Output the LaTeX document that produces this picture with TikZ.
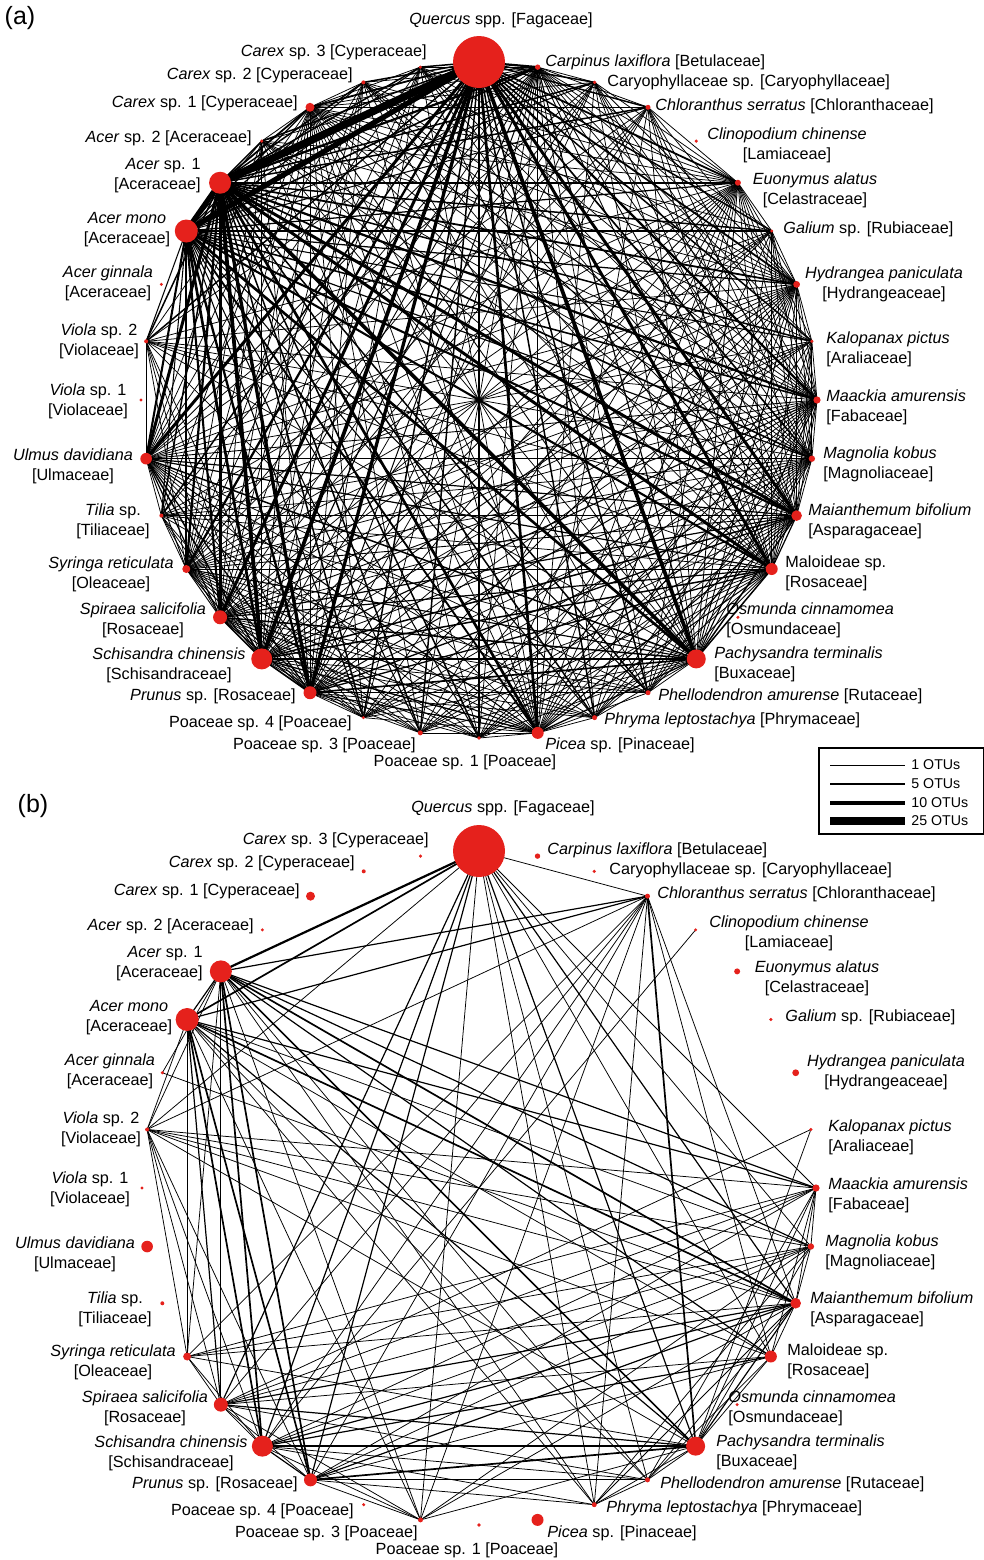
\documentclass[tikz,border=0pt]{standalone}
\usepackage{fontspec}
\setmainfont{Liberation Sans}
\definecolor{dotred}{RGB}{229,33,28}
\pgfdeclarelayer{bg}
\pgfsetlayers{bg,main}
\tikzset{
  dot/.style={circle,fill=dotred,inner sep=0pt,outer sep=0pt,draw=none},
  lbl/.style={inner sep=0pt,font=\fontsize{8.1}{10}\selectfont},
  et/.style={line width=0.38pt},
  em/.style={line width=0.6pt},
  eh/.style={line width=0.85pt},
  eH/.style={line width=1.1pt},
  eX/.style={line width=1.3pt},
}
\newcommand\lab[5]{%
  \node[lbl,#1] (la#2) at (#3,#4) {#5};
  \node[lbl,#1] (lb#2) at ({#3+2},{#4+788}) {#5};}
\begin{document}
\begin{tikzpicture}[x=0.5pt,y=-0.5pt]
\useasboundingbox (0,0) rectangle (984,1560);
\def\rarr{{26,2.7,1.8,2.5,1.7,3,1.7,3.4,1.7,3.6,3.2,5.3,6,1.7,9.5,2.5,2.5,6,1.8,2.5,1.7,6.5,10.5,7,4,2,5.8,1.7,2,1.7,11.5,11,1.7,4.5,2,1.7}}
\def\garr{{5,1.5,1,1,0,1.2,1,1.2,1,1.5,1.1,2,2,0,2.5,1,1,1.8,1,1,1,2.2,2.5,2,1.5,1,2,0,1,0,3.5,5,1,1.2,1,1}}
% nodes
\foreach \k in {0,...,35}{
  \pgfmathsetmacro\px{479+338*cos(90-10*\k)}
  \pgfmathsetmacro\py{400-338*sin(90-10*\k)}
  \pgfmathsetmacro\qx{479+337*cos(90-10*\k)}
  \pgfmathsetmacro\qy{1188-337*sin(90-10*\k)}
  \pgfmathsetmacro\rr{\rarr[\k]}
  \node[dot,minimum size=\rr pt] (a\k) at (\px,\py) {};
  \node[dot,minimum size=\rr pt] (b\k) at (\qx,\qy) {};
}
% edges panel (a)
\begin{pgfonlayer}{bg}
\foreach \i in {0,...,34}{
  \pgfmathtruncatemacro\js{\i+1}
  \foreach \j in {\js,...,35}{
    \pgfmathsetmacro\gi{\garr[\i]}
    \pgfmathsetmacro\gj{\garr[\j]}
    \pgfmathtruncatemacro\ok{(\gi>0)*(\gj>0)*(((\gi>1)+(\gj>1))>0)}
    \ifnum\ok=1
      \pgfmathsetmacro\w{max(0.38,0.15*\gi*\gj)}
      \draw[line width=\w pt] (a\i.center) -- (a\j.center);
    \fi
  }
}
% edges panel (b)
\foreach \u/\v/\s in {0/31/eH, 0/30/eh, 0/3/et, 0/28/et, 0/23/em, 0/22/em, 0/21/em, 0/19/et, 0/16/et, 0/15/et, 0/14/em, 0/12/et, 0/11/em, 0/10/et, 0/9/et,
3/31/em, 3/30/em, 3/28/et, 3/24/et, 3/23/et, 3/22/et, 3/21/et, 3/19/et, 3/16/et, 3/14/eh, 3/11/et, 3/12/et,
4/22/et, 8/23/et, 8/14/et,
9/31/em, 9/30/em, 9/28/et, 9/24/et, 9/23/et, 9/22/et, 9/21/et, 9/14/et, 9/11/et, 9/10/et, 9/12/et, 9/15/et,
10/31/em, 10/30/et, 10/28/et, 10/24/et, 10/23/et, 10/22/et, 10/21/et, 10/14/et, 10/11/et, 10/16/et, 10/19/et,
11/31/eh, 11/30/eh, 11/28/et, 11/29/et, 11/24/et, 11/23/em, 11/22/em, 11/21/em, 11/19/et, 11/16/et, 11/15/et, 11/14/em, 11/12/et,
12/31/em, 12/30/et, 12/28/et, 12/23/et, 12/22/em, 12/21/et, 12/15/et, 12/14/et,
14/31/eh, 14/30/em, 14/28/et, 14/24/et, 14/23/em, 14/22/eX, 14/21/eh, 14/19/et, 14/16/et, 14/15/et,
15/31/et, 15/30/et, 15/23/et, 15/22/et, 15/21/et, 15/16/et,
16/31/et, 16/30/et, 16/22/et, 16/21/et,
19/31/et, 19/30/et, 19/23/et, 19/22/et, 19/21/et,
21/31/eh, 21/30/eh, 21/22/em, 21/23/et, 21/28/et,
22/31/eh, 22/30/eh, 22/23/et, 22/28/et, 22/24/et,
23/31/em, 23/30/em, 23/28/et, 23/24/et,
24/30/et, 24/31/et, 24/28/et,
28/30/et, 28/31/et, 29/31/et, 30/31/em}
  \draw[\s] (b\u.center) -- (b\v.center);
\end{pgfonlayer}
% panel letters
\node[inner sep=0pt,font=\fontsize{12.5}{14}\selectfont] (pa) at (20,18) {(a)};
\node[inner sep=0pt,font=\fontsize{12.5}{14}\selectfont] (pb) at (33,806) {(b)};
% labels
\lab{anchor=center}{0}{501}{20}{\textit{Quercus} spp. [Fagaceae]}
\lab{anchor=west}{1}{545}{62}{\textit{Carpinus laxiflora} [Betulaceae]}
\lab{anchor=west}{2}{607}{82}{Caryophyllaceae sp. [Caryophyllaceae]}
\lab{anchor=west}{3}{655}{106}{\textit{Chloranthus serratus} [Chloranthaceae]}
\lab{anchor=center,align=center}{4}{787}{145}{\textit{Clinopodium chinense}\\{}[Lamiaceae]}
\lab{anchor=center,align=center}{5}{815}{190}{\textit{Euonymus alatus}\\{}[Celastraceae]}
\lab{anchor=west}{6}{783}{229}{\textit{Galium} sp. [Rubiaceae]}
\lab{anchor=center,align=center}{7}{884}{284}{\textit{Hydrangea paniculata}\\{}[Hydrangeaceae]}
\lab{anchor=west,align=left}{8}{826}{349}{\textit{Kalopanax pictus}\\{}[Araliaceae]}
\lab{anchor=west,align=left}{9}{826}{407}{\textit{Maackia amurensis}\\{}[Fabaceae]}
\lab{anchor=west,align=left}{10}{823}{464}{\textit{Magnolia kobus}\\{}[Magnoliaceae]}
\lab{anchor=west,align=left}{11}{808}{521}{\textit{Maianthemum bifolium}\\{}[Asparagaceae]}
\lab{anchor=west,align=left}{12}{785}{573}{Maloideae sp.\\{}[Rosaceae]}
\lab{anchor=west,align=left}{13}{726}{620}{\textit{Osmunda cinnamomea}\\{}[Osmundaceae]}
\lab{anchor=west,align=left}{14}{714}{664}{\textit{Pachysandra terminalis}\\{}[Buxaceae]}
\lab{anchor=west}{15}{658}{696}{\textit{Phellodendron amurense} [Rutaceae]}
\lab{anchor=west}{16}{604}{720}{\textit{Phryma leptostachya} [Phrymaceae]}
\lab{anchor=west}{17}{545}{745}{\textit{Picea} sp. [Pinaceae]}
\lab{anchor=center}{18}{465}{762}{Poaceae sp. 1 [Poaceae]}
\lab{anchor=east}{19}{416}{745}{Poaceae sp. 3 [Poaceae]}
\lab{anchor=east}{20}{352}{723}{Poaceae sp. 4 [Poaceae]}
\lab{anchor=east}{21}{296}{696}{\textit{Prunus} sp. [Rosaceae]}
\lab{anchor=center,align=center}{22}{169}{665}{\textit{Schisandra chinensis}\\{}[Schisandraceae]}
\lab{anchor=center,align=center}{23}{143}{620}{\textit{Spiraea salicifolia}\\{}[Rosaceae]}
\lab{anchor=center,align=center}{24}{111}{574}{\textit{Syringa reticulata}\\{}[Oleaceae]}
\lab{anchor=center,align=center}{25}{113}{521}{\textit{Tilia} sp.\\{}[Tiliaceae]}
\lab{anchor=center,align=center}{26}{73}{466}{\textit{Ulmus davidiana}\\{}[Ulmaceae]}
\lab{anchor=center,align=center}{27}{88}{401}{\textit{Viola} sp. 1\\{}[Violaceae]}
\lab{anchor=center,align=center}{28}{99}{341}{\textit{Viola} sp. 2\\{}[Violaceae]}
\lab{anchor=center,align=center}{29}{108}{283}{\textit{Acer ginnala}\\{}[Aceraceae]}
\lab{anchor=center,align=center}{30}{127}{230}{\textit{Acer mono}\\{}[Aceraceae]}
\lab{anchor=east,align=right}{31}{201}{176}{\textit{Acer} sp. 1\\{}[Aceraceae]}
\lab{anchor=east}{32}{252}{138}{\textit{Acer} sp. 2 [Aceraceae]}
\lab{anchor=east}{33}{298}{103}{\textit{Carex} sp. 1 [Cyperaceae]}
\lab{anchor=east}{34}{353}{75}{\textit{Carex} sp. 2 [Cyperaceae]}
\lab{anchor=east}{35}{427}{52}{\textit{Carex} sp. 3 [Cyperaceae]}
% legend
\node[draw,line width=0.75pt,minimum width=82.5pt,minimum height=43pt,inner sep=0pt,anchor=north west] (leg) at (818,747) {};
\foreach \yy/\ww/\lt [count=\n] in {765/0.45/1, 784/1/5, 803/1.6/10, 821/3.6/25}{
  \coordinate (l\n s) at (830,\yy);
  \coordinate (l\n e) at (905,\yy);
  \draw[line width=\ww pt] (l\n s) -- (l\n e);
  \node[anchor=west,inner sep=0pt,font=\fontsize{7.1}{8}\selectfont] (lt\n) at (911,\yy) {\lt\ OTUs};
}
\end{tikzpicture}
\end{document}
